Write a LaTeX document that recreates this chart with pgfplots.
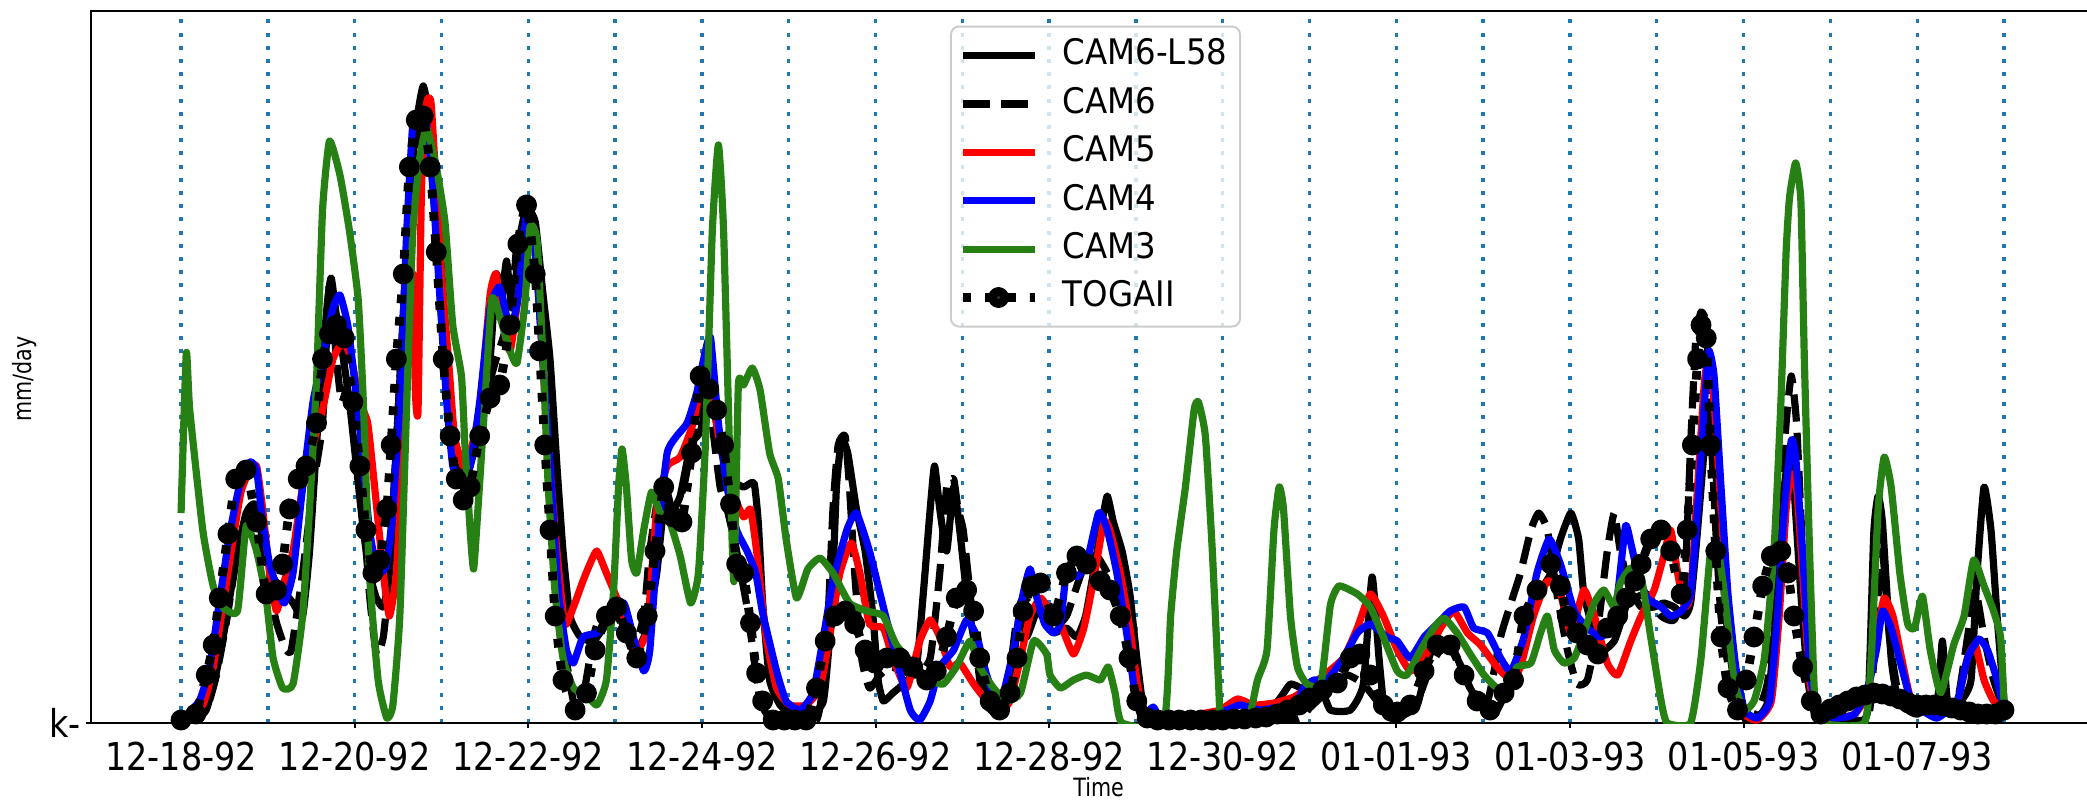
\documentclass[border=0pt]{standalone}
\usepackage{fontspec}
\setmainfont{DejaVu Sans}
\newfontfamily\tickfont[FakeStretch=0.87]{DejaVu Sans}
\newfontfamily\legfont[FakeStretch=0.92]{DejaVu Sans}
\newfontfamily\labfont[FakeStretch=0.82]{DejaVu Sans}
\usepackage{pgfplots}
\pgfplotsset{compat=1.18}
\definecolor{gridblue}{RGB}{31,119,180}
\definecolor{camgreen}{RGB}{38,128,20}
\definecolor{legframe}{RGB}{204,204,204}
\begin{document}
\begin{tikzpicture}
\begin{axis}[
  scale only axis, width=502pt, height=178pt,
  xmin=-1.043, xmax=22.09, ymin=0, ymax=712,
  axis line style={line width=0.5pt},
  xtick={0,2,...,20},
  xticklabels={12-18-92,12-20-92,12-22-92,12-24-92,12-26-92,12-28-92,12-30-92,01-01-93,01-03-93,01-05-93,01-07-93},
  minor xtick={1,3,...,21},
  ytick={0}, yticklabels={k-},
  xtick pos=bottom, ytick pos=left,
  tick align=outside, major tick length=1.2pt, minor tick length=0pt,
  tick style={black, line width=0.5pt},
  xmajorgrids, xminorgrids,
  major grid style={gridblue, line width=0.85pt, dash pattern=on 1pt off 2.3pt},
  minor grid style={gridblue, line width=0.85pt, dash pattern=on 1pt off 2.3pt},
  ticklabel style={font=\tickfont\fontsize{9.6}{11}\selectfont},
  yticklabel style={inner sep=1pt},
  xlabel={Time}, ylabel={mm/day},
  label style={font=\labfont\fontsize{6.3}{7}\selectfont},
  xlabel style={at={(axis description cs:0.502,-0.0905)}, anchor=center},
  ylabel style={at={(axis description cs:-0.0331,0.483)}, anchor=center},
  legend cell align=left,
  legend image code/.code={\draw[mark repeat=2,mark phase=2,#1] plot coordinates {(0pt,0pt) (9pt,0pt) (18pt,0pt)};},
  legend style={at={(axis description cs:0.428,0.9796)}, anchor=north west,
    draw=legframe, line width=0.5pt, rounded corners=2pt, fill=white, fill opacity=0.8, text opacity=1, draw opacity=1,
    font=\legfont\fontsize{8.8}{10}\selectfont, inner xsep=1.8pt, inner ysep=1.2pt,
    nodes={inner sep=1.4pt, text height=7pt, text depth=2.3pt}},
  /tikz/every odd column/.append style={column sep=4.6pt},
  every axis plot/.append style={line join=round, smooth, tension=0.3},
]
% CAM6-L58
\addplot[black, line width=1.8pt] coordinates {
(0,3) (0.17,5) (0.29,13) (0.4,48) (0.52,103) (0.63,163) (0.75,210) (0.85,219) (0.94,184) (1.06,146) (1.17,133) (1.29,120) (1.4,107) (1.48,172) (1.56,278) (1.63,364) (1.69,424) (1.73,445) (1.79,407) (1.87,364) (1.94,321) (2.02,257) (2.1,193) (2.17,150) (2.25,125) (2.33,116) (2.4,150) (2.48,278) (2.56,407) (2.63,522) (2.71,599) (2.79,637) (2.87,599) (2.94,535) (3.02,428) (3.1,321) (3.17,257) (3.25,236) (3.33,257) (3.44,295) (3.56,364) (3.63,449) (3.69,424) (3.75,462) (3.81,415) (3.88,462) (3.98,513) (4.08,501) (4.17,428) (4.25,364) (4.33,257) (4.4,172) (4.48,107) (4.6,86) (4.75,82) (4.9,99) (5.02,112) (5.13,99) (5.25,73) (5.37,95) (5.48,150) (5.56,214) (5.67,214) (5.75,227) (5.87,278) (5.98,291) (6.1,330) (6.21,278) (6.33,244) (6.48,236) (6.6,240) (6.65,200) (6.7,120) (6.78,43) (6.9,18) (7.05,9) (7.24,9) (7.4,22) (7.49,107) (7.55,236) (7.61,283) (7.68,270) (7.78,214) (7.88,172) (7.97,107) (8.03,43) (8.09,22) (8.2,30) (8.32,39) (8.47,56) (8.55,129) (8.63,214) (8.68,257) (8.74,214) (8.82,172) (8.9,236) (8.97,193) (9.05,129) (9.13,86) (9.24,43) (9.36,18) (9.47,18) (9.59,65) (9.67,116) (9.74,86) (9.86,112) (9.97,100) (10.05,90) (10.2,95) (10.32,86) (10.42,107) (10.51,150) (10.61,201) (10.67,227) (10.74,201) (10.84,172) (10.93,129) (11.01,65) (11.09,13) (11.2,3) (11.82,3) (12.2,5) (12.51,9) (12.67,26) (12.78,39) (12.9,35) (13.01,30) (13.13,35) (13.24,13) (13.47,13) (13.62,39) (13.72,146) (13.8,65) (13.87,9) (14.01,5) (14.24,18) (14.39,69) (14.55,82) (14.7,65) (14.85,35) (15.01,13) (15.16,13) (15.32,43) (15.47,78) (15.62,125) (15.78,150) (15.89,184) (16.01,210) (16.1,184) (16.16,129) (16.28,90) (16.39,73) (16.51,82) (16.58,99) (16.7,129) (16.82,116) (16.97,116) (17.08,120) (17.2,116) (17.32,107) (17.39,120) (17.47,193) (17.55,278) (17.6,321) (17.66,278) (17.74,172) (17.82,86) (17.91,30) (18.01,5) (18.12,3) (18.28,22) (18.39,129) (18.47,236) (18.53,270) (18.58,236) (18.66,129) (18.74,43) (18.82,9) (18.97,3) (19.28,3) (19.43,13) (19.5,190) (19.55,227) (19.6,200) (19.7,65) (19.78,22) (19.89,13) (20.0,9) (20.23,22) (20.29,82) (20.35,22) (20.5,22) (20.62,43) (20.69,150) (20.77,236) (20.85,193) (20.92,107) (21.0,22)
};
\addlegendentry{CAM6-L58}
% CAM6
\addplot[black, line width=1.8pt, dash pattern=on 6.8pt off 2.8pt] coordinates {
(0,3) (0.17,5) (0.29,13) (0.4,45) (0.52,100) (0.63,160) (0.75,205) (0.82,215) (0.9,190) (1.0,140) (1.1,100) (1.2,75) (1.27,73) (1.4,150) (1.52,236) (1.63,300) (1.71,441) (1.79,364) (1.85,321) (1.94,342) (2.02,300) (2.1,214) (2.17,129) (2.25,69) (2.33,86) (2.4,150) (2.48,278) (2.56,407) (2.63,513) (2.71,578) (2.79,607) (2.87,578) (2.94,492) (3.02,385) (3.12,300) (3.21,244) (3.37,278) (3.52,330) (3.63,364) (3.75,398) (3.87,471) (3.98,513) (4.1,449) (4.17,364) (4.25,278) (4.33,172) (4.4,86) (4.52,22) (4.63,26) (4.75,86) (4.83,107) (4.98,112) (5.1,95) (5.21,73) (5.33,107) (5.4,172) (5.52,236) (5.67,214) (5.79,236) (5.9,287) (5.98,321) (6.06,338) (6.13,291) (6.21,236) (6.29,214) (6.4,172) (6.52,116) (6.6,65) (6.67,22) (6.78,5) (6.93,3) (7.32,3) (7.43,65) (7.51,214) (7.57,278) (7.65,287) (7.7,236) (7.76,150) (7.84,65) (7.93,35) (8.05,48) (8.17,56) (8.32,52) (8.47,48) (8.63,65) (8.74,150) (8.82,236) (8.9,244) (8.95,214) (9.01,193) (9.09,129) (9.17,65) (9.24,22) (9.4,9) (9.51,26) (9.63,107) (9.7,125) (9.82,116) (9.93,120) (10.05,95) (10.2,107) (10.32,137) (10.43,163) (10.55,167) (10.67,150) (10.78,129) (10.9,95) (10.97,43) (11.05,9) (11.2,3) (12.8,3) (13.0,15) (13.24,35) (13.43,48) (13.62,39) (13.82,18) (14.01,9) (14.24,22) (14.39,56) (14.55,78) (14.7,65) (14.85,35) (15.05,22) (15.2,86) (15.32,120) (15.43,150) (15.55,193) (15.64,210) (15.74,193) (15.85,129) (15.97,73) (16.08,39) (16.2,43) (16.32,95) (16.43,172) (16.51,210) (16.58,172) (16.7,129) (16.74,125) (16.89,129) (17.05,107) (17.2,103) (17.32,137) (17.39,278) (17.45,385) (17.51,411) (17.57,398) (17.62,300) (17.68,193) (17.74,107) (17.85,43) (17.97,13) (18.12,3) (18.28,43) (18.39,172) (18.49,300) (18.55,347) (18.61,300) (18.68,172) (18.76,65) (18.85,9) (18.97,3) (19.43,3) (19.53,107) (19.6,172) (19.68,86) (19.78,30) (19.93,13) (20.05,9) (20.23,18) (20.46,22) (20.58,86) (20.67,133) (20.77,86) (20.88,43) (21.0,13)
};
\addlegendentry{CAM6}
% CAM5
\addplot[red, line width=1.8pt] coordinates {
(0,3) (0.25,18) (0.37,56) (0.48,116) (0.6,184) (0.69,231) (0.79,253) (0.87,257) (0.94,214) (1.02,150) (1.1,112) (1.19,142) (1.29,172) (1.4,236) (1.52,278) (1.63,313) (1.75,364) (1.87,381) (1.96,364) (2.06,321) (2.15,300) (2.23,236) (2.33,150) (2.4,107) (2.48,150) (2.56,278) (2.63,407) (2.67,449) (2.7,330) (2.73,313) (2.77,535) (2.83,620) (2.88,620) (2.94,535) (3.0,449) (3.08,364) (3.15,287) (3.25,257) (3.33,270) (3.44,313) (3.56,428) (3.63,449) (3.71,398) (3.79,372) (3.88,424) (3.98,501) (4.08,471) (4.15,385) (4.23,278) (4.33,172) (4.42,99) (4.52,116) (4.63,142) (4.71,159) (4.79,172) (4.9,150) (5.02,125) (5.13,99) (5.25,73) (5.37,95) (5.48,214) (5.6,257) (5.75,266) (5.9,300) (6.0,342) (6.1,334) (6.21,278) (6.33,236) (6.48,206) (6.56,214) (6.63,172) (6.74,86) (6.86,35) (7.01,18) (7.2,18) (7.36,35) (7.47,86) (7.59,150) (7.72,180) (7.82,150) (7.93,99) (8.09,95) (8.2,65) (8.36,35) (8.51,82) (8.63,103) (8.74,86) (8.86,56) (8.97,60) (9.13,39) (9.28,22) (9.4,9) (9.55,22) (9.67,65) (9.78,107) (9.9,125) (10.01,112) (10.13,99) (10.28,69) (10.4,95) (10.51,142) (10.63,201) (10.7,193) (10.82,150) (10.93,95) (11.01,43) (11.09,9) (11.28,3) (11.51,5) (11.74,9) (11.97,13) (12.17,24) (12.36,18) (12.59,20) (12.82,26) (12.97,35) (13.17,48) (13.39,65) (13.55,95) (13.7,129) (13.85,107) (14.01,73) (14.16,52) (14.32,65) (14.51,95) (14.66,112) (14.82,90) (14.97,78) (15.16,56) (15.32,43) (15.43,56) (15.58,107) (15.74,142) (15.89,129) (16.01,90) (16.16,133) (16.28,107) (16.43,60) (16.55,48) (16.7,82) (16.82,107) (16.97,133) (17.08,167) (17.16,193) (17.24,150) (17.32,116) (17.39,129) (17.47,236) (17.55,342) (17.6,364) (17.66,321) (17.74,214) (17.82,107) (17.91,43) (18.01,9) (18.16,3) (18.32,22) (18.41,107) (18.49,214) (18.55,249) (18.61,236) (18.68,150) (18.76,43) (18.85,9) (19.05,5) (19.28,9) (19.43,30) (19.53,86) (19.62,125) (19.72,107) (19.82,65) (19.93,22) (20.05,13) (20.23,9) (20.46,22) (20.58,65) (20.67,78) (20.77,43) (20.88,22) (21.0,18)
};
\addlegendentry{CAM5}
% CAM4
\addplot[blue, line width=1.8pt] coordinates {
(0,3) (0.21,22) (0.33,56) (0.44,120) (0.56,189) (0.67,236) (0.79,261) (0.87,253) (0.94,201) (1.02,159) (1.1,137) (1.19,120) (1.29,150) (1.4,236) (1.52,321) (1.63,364) (1.75,415) (1.83,428) (1.92,398) (2.0,342) (2.08,278) (2.17,193) (2.27,150) (2.37,159) (2.44,214) (2.52,321) (2.6,492) (2.67,599) (2.75,612) (2.83,599) (2.9,535) (2.98,428) (3.06,321) (3.13,257) (3.21,244) (3.33,257) (3.44,321) (3.56,415) (3.67,436) (3.79,394) (3.88,424) (3.98,509) (4.08,471) (4.15,385) (4.25,257) (4.35,129) (4.44,73) (4.52,60) (4.63,86) (4.79,90) (4.94,103) (5.1,120) (5.21,86) (5.33,52) (5.4,73) (5.5,193) (5.6,270) (5.71,287) (5.83,300) (5.94,330) (6.04,372) (6.1,385) (6.19,300) (6.29,236) (6.4,193) (6.52,172) (6.62,150) (6.7,110) (6.86,52) (6.97,22) (7.13,13) (7.28,30) (7.4,86) (7.51,142) (7.67,193) (7.78,210) (7.93,172) (8.09,116) (8.24,65) (8.4,13) (8.51,3) (8.63,22) (8.74,56) (8.9,73) (9.05,103) (9.17,86) (9.28,48) (9.43,18) (9.59,73) (9.7,129) (9.78,154) (9.86,125) (9.95,99) (10.05,90) (10.13,99) (10.2,150) (10.32,146) (10.43,159) (10.57,210) (10.67,193) (10.78,150) (10.9,86) (10.99,30) (11.09,9) (11.2,16) (11.28,5) (11.51,3) (11.82,7) (12.05,13) (12.2,18) (12.43,13) (12.67,16) (12.82,13) (12.93,35) (13.05,43) (13.2,43) (13.39,65) (13.55,90) (13.7,99) (13.89,86) (14.01,82) (14.16,65) (14.32,86) (14.47,99) (14.62,112) (14.78,116) (14.89,95) (15.05,90) (15.2,65) (15.32,52) (15.47,86) (15.62,150) (15.76,184) (15.89,159) (16.05,112) (16.2,95) (16.35,86) (16.47,95) (16.55,129) (16.64,197) (16.7,180) (16.78,150) (16.89,125) (17.05,116) (17.16,107) (17.28,112) (17.39,129) (17.47,214) (17.55,321) (17.6,372) (17.66,347) (17.74,236) (17.82,129) (17.91,56) (18.01,13) (18.16,5) (18.3,22) (18.39,107) (18.47,214) (18.55,283) (18.6,266) (18.68,172) (18.76,56) (18.85,13) (19.05,5) (19.28,9) (19.43,35) (19.53,73) (19.6,112) (19.7,95) (19.82,56) (19.93,22) (20.05,13) (20.23,5) (20.46,22) (20.58,65) (20.71,84) (20.81,73) (20.92,43) (21.0,13)
};
\addlegendentry{CAM4}
% CAM3
\addplot[camgreen, line width=1.8pt] coordinates {
(0,210) (0.06,370) (0.1,313) (0.25,193) (0.37,137) (0.48,116) (0.65,112) (0.75,197) (0.87,172) (0.98,125) (1.06,65) (1.17,35) (1.29,39) (1.4,107) (1.48,214) (1.56,342) (1.63,513) (1.71,582) (1.83,548) (1.94,492) (2.04,424) (2.1,321) (2.17,150) (2.27,43) (2.37,5) (2.44,18) (2.52,107) (2.6,321) (2.67,492) (2.75,565) (2.83,595) (2.94,556) (3.04,501) (3.13,398) (3.23,347) (3.27,278) (3.33,193) (3.37,154) (3.42,214) (3.5,321) (3.58,424) (3.67,407) (3.79,372) (3.87,360) (3.96,419) (4.02,496) (4.1,483) (4.17,364) (4.23,236) (4.31,129) (4.4,65) (4.52,35) (4.65,30) (4.79,18) (4.9,43) (4.98,129) (5.04,236) (5.08,274) (5.13,236) (5.19,163) (5.25,150) (5.33,193) (5.42,231) (5.52,210) (5.63,201) (5.75,167) (5.87,120) (5.96,150) (6.04,278) (6.12,492) (6.19,578) (6.25,492) (6.33,236) (6.37,142) (6.42,338) (6.48,338) (6.58,355) (6.67,333) (6.78,270) (6.88,244) (6.97,184) (7.09,125) (7.22,154) (7.36,165) (7.51,150) (7.7,120) (7.9,112) (8.09,107) (8.24,78) (8.47,56) (8.63,43) (8.78,39) (8.93,56) (9.09,82) (9.2,56) (9.36,35) (9.51,22) (9.67,30) (9.82,82) (9.97,69) (10.01,48) (10.13,35) (10.28,43) (10.43,48) (10.59,43) (10.68,56) (10.76,30) (10.84,0) (11.32,0) (11.4,107) (11.47,172) (11.57,236) (11.67,313) (11.72,321) (11.8,287) (11.88,172) (11.95,43) (11.99,0) (12.28,0) (12.4,43) (12.51,73) (12.59,193) (12.65,236) (12.7,214) (12.78,107) (12.86,56) (12.97,39) (13.13,39) (13.24,118) (13.34,137) (13.55,129) (13.7,116) (13.85,86) (14.01,52) (14.12,48) (14.28,73) (14.43,95) (14.55,105) (14.7,90) (14.85,69) (15.01,48) (15.16,35) (15.28,35) (15.39,56) (15.55,60) (15.66,90) (15.74,107) (15.82,73) (15.93,60) (16.05,65) (16.16,90) (16.28,120) (16.39,133) (16.51,116) (16.58,140) (16.7,155) (16.82,146) (16.93,86) (17.05,22) (17.12,0) (17.39,0) (17.51,65) (17.62,172) (17.7,176) (17.78,129) (17.89,43) (18.0,13) (18.12,22) (18.24,65) (18.35,172) (18.43,321) (18.49,471) (18.53,526) (18.6,560) (18.66,522) (18.7,364) (18.76,172) (18.82,22) (18.89,0) (19.39,0) (19.47,65) (19.55,214) (19.62,266) (19.7,236) (19.8,150) (19.89,99) (19.97,95) (20.06,127) (20.15,73) (20.27,30) (20.42,78) (20.54,107) (20.65,163) (20.77,137) (20.88,112) (20.96,86) (21.0,22)
};
\addlegendentry{CAM3}
% TOGAII
\addplot[black, line width=2.2pt, dash pattern=on 2.2pt off 3.4pt, mark=*, mark size=1.5pt, mark options={solid, fill=black}] coordinates {
(0,3) (0.17,9) (0.29,48) (0.37,78) (0.44,125) (0.54,189) (0.63,244) (0.75,253) (0.87,201) (0.98,129) (1.1,133) (1.17,159) (1.25,214) (1.35,244) (1.44,257) (1.56,300) (1.63,364) (1.71,389) (1.79,398) (1.88,385) (1.98,321) (2.06,257) (2.13,193) (2.21,150) (2.29,163) (2.37,214) (2.42,278) (2.48,364) (2.56,449) (2.63,556) (2.71,603) (2.79,607) (2.87,556) (2.94,471) (3.02,364) (3.1,287) (3.17,244) (3.25,223) (3.33,236) (3.44,287) (3.56,325) (3.67,338) (3.79,398) (3.88,479) (3.98,518) (4.08,449) (4.13,372) (4.19,278) (4.25,193) (4.31,107) (4.4,43) (4.54,13) (4.67,30) (4.77,73) (4.9,107) (5.02,116) (5.13,90) (5.25,65) (5.37,107) (5.46,172) (5.56,236) (5.67,206) (5.77,201) (5.88,270) (5.98,347) (6.08,334) (6.17,313) (6.25,278) (6.33,219) (6.4,159) (6.48,150) (6.56,100) (6.63,50) (6.7,22) (6.82,3) (6.95,3) (7.07,3) (7.2,3) (7.32,35) (7.42,82) (7.53,107) (7.65,112) (7.76,99) (7.88,73) (7.99,60) (8.13,65) (8.28,65) (8.43,56) (8.59,43) (8.7,52) (8.82,86) (8.93,125) (9.05,133) (9.13,112) (9.2,65) (9.32,22) (9.43,13) (9.55,30) (9.63,65) (9.7,112) (9.8,137) (9.9,140) (10.05,107) (10.2,150) (10.32,167) (10.43,159) (10.59,142) (10.7,133) (10.82,107) (10.92,65) (11.01,22) (11.13,5) (11.25,3) (11.38,3) (11.5,3) (11.63,3) (11.75,3) (11.88,3) (12.0,3) (12.13,4) (12.25,4) (12.38,5) (12.5,6) (12.63,9) (12.75,13) (12.88,18) (13.0,25) (13.15,33) (13.32,40) (13.47,65) (13.58,69) (13.7,48) (13.85,18) (14.01,11) (14.16,18) (14.32,52) (14.47,78) (14.62,78) (14.78,48) (14.93,22) (15.08,13) (15.24,30) (15.35,43) (15.47,107) (15.62,133) (15.78,159) (15.89,137) (15.97,107) (16.08,90) (16.2,78) (16.32,69) (16.43,95) (16.55,107) (16.65,125) (16.75,142) (16.82,159) (16.93,184) (17.05,193) (17.16,172) (17.28,129) (17.35,193) (17.41,278) (17.47,364) (17.51,398) (17.57,385) (17.62,278) (17.68,172) (17.74,86) (17.82,35) (17.93,13) (18.03,43) (18.12,86) (18.22,137) (18.32,167) (18.43,172) (18.51,150) (18.58,107) (18.68,56) (18.78,22) (18.89,9) (19.0,14) (19.1,18) (19.2,22) (19.3,26) (19.4,28) (19.5,30) (19.6,29) (19.7,27) (19.8,24) (19.9,20) (20.0,18) (20.1,18) (20.2,18) (20.3,17) (20.4,15) (20.5,13) (20.6,11) (20.7,9) (20.8,9) (20.9,9) (21.0,13)
};
\addlegendentry{TOGAII}
\end{axis}
\pgfresetboundingbox
\useasboundingbox (-22.63pt,-19pt) rectangle (499.1pt,180.75pt);
\end{tikzpicture}
\end{document}
